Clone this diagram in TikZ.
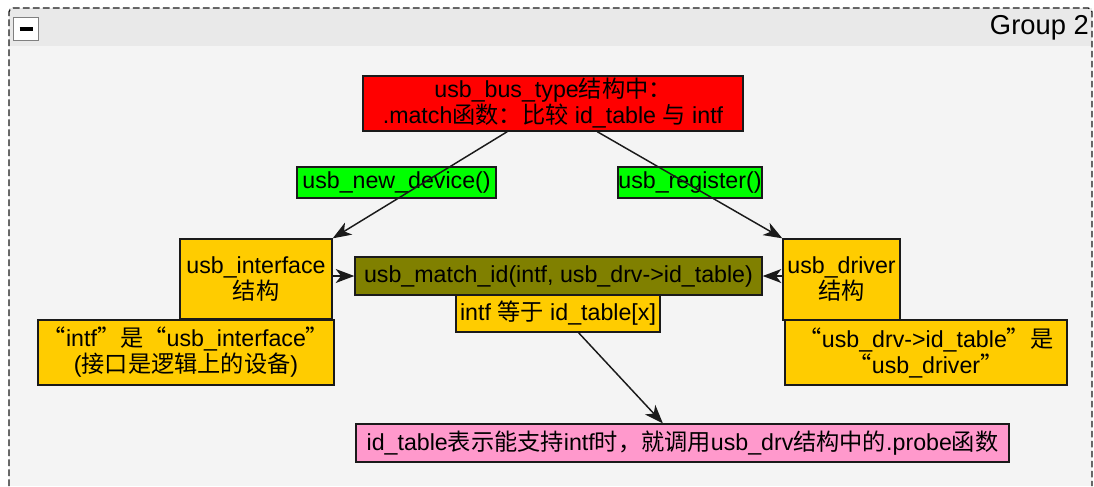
\documentclass[tikz,border=0pt]{standalone}
\usepackage{fontspec}
\setmainfont{Liberation Sans}
\newfontfamily\cjk{Noto Sans CJK SC}
\newcommand{\zh}[1]{{\cjk #1}}
\usetikzlibrary{arrows.meta,calc}
\definecolor{bgc}{HTML}{F4F4F4}
\definecolor{hdr}{HTML}{E9E9E9}
\definecolor{cred}{HTML}{FF0000}
\definecolor{cgreen}{HTML}{00FF00}
\definecolor{cgold}{HTML}{FFCC00}
\definecolor{colive}{HTML}{808000}
\definecolor{cpink}{HTML}{FF99CC}
\definecolor{edge}{HTML}{1A1A1A}
\tikzset{
  bx/.style={draw=edge, line width=1pt, inner sep=0pt, align=center,
    font=\fontsize{17.4}{19.5}\selectfont},
  arr/.style={draw=edge, line width=1.1pt, -{Stealth[length=14pt,width=10.5pt,inset=4pt]}},
}
\begin{document}
\begin{tikzpicture}[x=0.75pt,y=-0.75pt]
\useasboundingbox (0,0) rectangle (1094,486);
\fill[white] (0,0) rectangle (1094,486);
% group frame
\fill[bgc] (9,8) rectangle (1092,486);
\fill[hdr] (9,8) rectangle (1092,46);
\draw[draw=edge, line width=1pt, dash pattern=on 5pt off 2.5pt, rounded corners=3pt] (9,486) -- (9,8) -- (1092,8) -- (1092,486);
\node[draw=gray, fill=white, line width=0.6pt, minimum width=18.5pt, minimum height=17pt, inner sep=0pt] (toggle) at (26,29) {};
\draw[line width=2.4pt] (19.5,29) -- (32.5,29);
\node[anchor=east, font=\fontsize{20.5}{22}\selectfont, inner sep=0pt] (grp) at (1089,28) {Group 2};

% nodes
\node[bx, fill=cred, minimum width=285pt, minimum height=41.25pt] (red) at (553,103.5)
  {usb\_bus\_type\zh{结构中：}\\.match\zh{函数：比较} id\_table \zh{与} intf};
\node[bx, fill=cgreen, minimum width=149.25pt, minimum height=23.25pt] (g1) at (396.5,182.5) {usb\_new\_device()};
\node[bx, fill=cgreen, minimum width=108pt, minimum height=23.25pt] (g2) at (690,182.5) {usb\_register()};
\node[bx, fill=cgold, minimum width=114pt, minimum height=60pt] (ui) at (256,279) {usb\_interface\\\zh{结构}};
\node[bx, fill=cgold, minimum width=222pt, minimum height=48.75pt] (uinote) at (186,352.5)
  {\zh{“}intf\zh{”是“}usb\_interface\zh{”}\\(\zh{接口是逻辑上的设备})};
\node[bx, fill=colive, minimum width=305.25pt, minimum height=28.5pt] (olive) at (558.5,276)
  {usb\_match\_id(intf, usb\_drv->id\_table)};
\node[bx, fill=cgold, minimum width=153pt, minimum height=27.75pt] (eq) at (558,313.5)
  {intf \zh{等于} id\_table[x]};
\node[bx, fill=cgold, minimum width=87.75pt, minimum height=60.75pt] (ud) at (841.5,279.5) {usb\_driver\\\zh{结构}};
\node[bx, fill=cgold, minimum width=211.5pt, minimum height=48.75pt] (udnote) at (926,352.5)
  {\zh{“}usb\_drv->id\_table\zh{”是}\\\zh{“}usb\_driver\zh{”}};
\node[bx, fill=cpink, minimum width=489.75pt, minimum height=28.5pt] (pink) at (682.5,443)
  {id\_table\zh{表示能支持}intf\zh{时，就调用}usb\_drv\zh{结构中的}.probe\zh{函数}};

% connectors
\draw[arr] ($(red.south west)!0.38!(red.south east)$) -- (ui.north east);
\draw[arr] ($(red.south west)!0.616!(red.south east)$) -- (ud.north west);
\draw[arr] ($(eq.south west)!0.6!(eq.south east)$) -- ($(pink.north west)!0.47!(pink.north east)$);
\draw[arr] (ui.east |- olive.west) -- (olive.west);
\draw[arr] (ud.west |- olive.east) -- (olive.east);
\end{tikzpicture}
\end{document}
